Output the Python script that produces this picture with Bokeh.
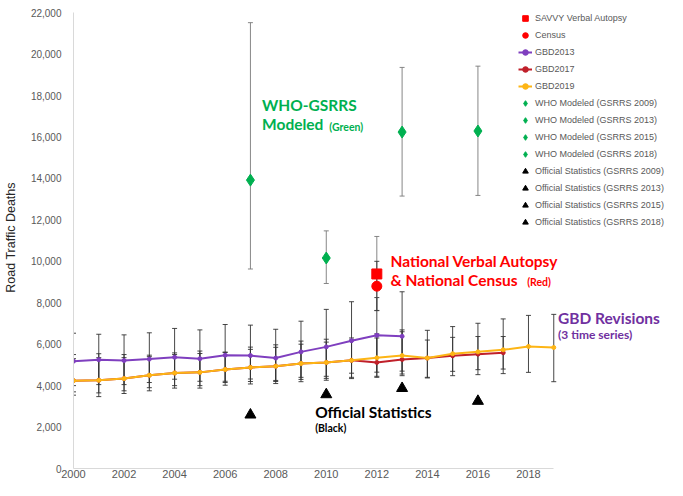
from bokeh.plotting import figure
from bokeh.models import (ColumnDataSource, Whisker, TeeHead, Legend, LegendItem, Label,
                          NumeralTickFormatter, FixedTicker, Range1d)
from bokeh.embed import file_html
from bokeh.resources import INLINE

# ---------------- data ----------------
x_ticks = [2000, 2002, 2004, 2006, 2008, 2010, 2012, 2014, 2016, 2018]
y_ticks = [0, 2000, 4000, 6000, 8000, 10000, 12000, 14000, 16000, 18000, 20000, 22000]

savvy_year = [2012]
savvy_val = [9390]
savvy_lo = [7630]
savvy_hi = [11200]

census_year = [2012]
census_val = [8800]
census_lo = [7620]
census_hi = [10000]

gbd2013_years = list(range(2000, 2014))
gbd2013 = [5180, 5250, 5210, 5280, 5370, 5300, 5470, 5450, 5330, 5630, 5870, 6170, 6430, 6380]
gbd2013_hi = [6530, 6480, 6450, 6550, 6760, 6690, 6950, 6920, 6720, 7110, 7680, 8050, 8250, 8530]
gbd2013_lo = [4000, 4050, 4050, 4150, 4310, 4210, 4210, 4320, 4250, 4400, 4450, 4600, 4650, 4700]

gbd2017_years = list(range(2000, 2018))
gbd2017 = [4240, 4260, 4340, 4500, 4610, 4640, 4780, 4880, 4940, 5070, 5120, 5220, 5120, 5260, 5330, 5440, 5520, 5590]
gbd2017_hi = [5300, 5350, 5350, 5400, 5500, 5550, 5600, 5750, 5850, 6000, 6100, 6200, 6300, 6690, 6200, 6330, 6370, 6370]
gbd2017_lo = [3700, 3650, 3750, 3900, 4000, 4000, 4150, 4200, 4200, 4300, 4350, 4400, 4400, 4480, 4400, 4690, 4770, 4800]

gbd2019_years = list(range(2000, 2020))
gbd2019 = [4240, 4260, 4340, 4500, 4610, 4640, 4780, 4880, 4940, 5070, 5120, 5220, 5340, 5450, 5330, 5540, 5630, 5730, 5890, 5840]
gbd2019_hi = [5500, 5540, 5500, 5470, 5580, 5670, 5620, 5860, 5970, 6150, 6240, 6300, 6500, 6600, 6670, 6850, 7010, 7220, 7390, 7440]
gbd2019_lo = [3540, 3470, 3620, 3750, 3880, 3880, 4020, 4080, 4100, 4190, 4260, 4340, 4450, 4560, 4370, 4480, 4530, 4580, 4640, 4190]

who_labels = ["WHO Modeled (GSRRS 2009)", "WHO Modeled (GSRRS 2013)",
              "WHO Modeled (GSRRS 2015)", "WHO Modeled (GSRRS 2018)"]
who_years = [2007, 2010, 2013, 2016]
who_val = [13920, 10160, 16240, 16290]
who_lo = [9630, 8930, 13150, 13180]
who_hi = [21520, 11470, 19360, 19420]

off_labels = ["Official Statistics (GSRRS 2009)", "Official Statistics (GSRRS 2013)",
              "Official Statistics (GSRRS 2015)", "Official Statistics (GSRRS 2018)"]
off_years = [2007, 2010, 2013, 2016]
off_val = [2590, 3570, 3870, 3250]

# ---------------- figure ----------------
# frame spans to the right edge so the legend / notes are not clipped;
# the axes themselves are bounded to 2000-2019 and 0-22000
p = figure(width=667, height=480, output_backend="svg", toolbar_location=None,
           x_range=Range1d(2000, 2023.5), y_range=Range1d(0, 22300),
           min_border_left=0, min_border_right=0, min_border_top=6, min_border_bottom=0)
p.xgrid.visible = False
p.ygrid.visible = False
p.outline_line_color = None
p.background_fill_color = "white"

for ax in (p.xaxis[0], p.yaxis[0]):
    ax.axis_line_color = "#d9d9d9"
    ax.major_tick_line_color = None
    ax.minor_tick_line_color = None
    ax.major_tick_out = 0
    ax.major_tick_in = 0
    ax.minor_tick_out = 0
    ax.minor_tick_in = 0
    ax.major_label_text_color = "#595959"
    ax.major_label_text_font = "Liberation Sans"

p.xaxis.bounds = (2000, 2019)
p.yaxis.bounds = (0, 22000)
p.xaxis.ticker = FixedTicker(ticks=x_ticks)
p.xaxis.major_label_text_font_size = "11px"
p.xaxis.major_label_standoff = 1
p.yaxis.ticker = FixedTicker(ticks=y_ticks)
p.yaxis.formatter = NumeralTickFormatter(format="0,0")
p.yaxis.major_label_text_font_size = "10px"
p.yaxis.major_label_standoff = 12
p.yaxis.axis_label = "Road Traffic Deaths"
p.yaxis.axis_label_text_font = "Liberation Sans"
p.yaxis.axis_label_text_font_style = "normal"
p.yaxis.axis_label_text_font_size = "12.5px"
p.yaxis.axis_label_text_color = "#262626"
p.yaxis.axis_label_standoff = 10

GBD_BAR = "#333333"
PURPLE = "#7f3fbf"
DKRED = "#c0202a"
ORANGE = "#fdb515"
GREEN = "#00b050"
RED = "#ff0000"


def whisker(xs, lo, hi, color, alpha=0.9):
    src = ColumnDataSource(dict(x=xs, lo=lo, hi=hi))
    w = Whisker(source=src, base="x", lower="lo", upper="hi", dimension="height",
                line_color=color, line_width=1, line_alpha=alpha, level="underlay",
                upper_head=TeeHead(size=5, line_color=color, line_width=1, line_alpha=alpha),
                lower_head=TeeHead(size=5, line_color=color, line_width=1, line_alpha=alpha))
    p.add_layout(w)


# error bars
whisker(gbd2013_years, gbd2013_lo, gbd2013_hi, GBD_BAR)
whisker(gbd2017_years, gbd2017_lo, gbd2017_hi, GBD_BAR)
whisker(gbd2019_years, gbd2019_lo, gbd2019_hi, GBD_BAR)
whisker(who_years, who_lo, who_hi, "#7a7a7a")
whisker(savvy_year, savvy_lo, savvy_hi, "#7a7a7a")
whisker(census_year, census_lo, census_hi, "#333333")

items = []

r_sv = p.scatter(savvy_year, savvy_val, marker="square", size=10, color=RED)
r_ce = p.scatter(census_year, census_val, marker="circle", size=10, color=RED)
items.append(LegendItem(label="SAVVY Verbal Autopsy", renderers=[r_sv]))
items.append(LegendItem(label="Census", renderers=[r_ce]))

r17l = p.line(gbd2017_years, gbd2017, line_color=DKRED, line_width=2)
r17s = p.scatter(gbd2017_years, gbd2017, size=4, color=DKRED)
r19l = p.line(gbd2019_years, gbd2019, line_color=ORANGE, line_width=2)
r19s = p.scatter(gbd2019_years, gbd2019, size=4, color=ORANGE)
r13l = p.line(gbd2013_years, gbd2013, line_color=PURPLE, line_width=2)
r13s = p.scatter(gbd2013_years, gbd2013, size=4, color=PURPLE)
items.append(LegendItem(label="GBD2013", renderers=[r13l, r13s]))
items.append(LegendItem(label="GBD2017", renderers=[r17l, r17s]))
items.append(LegendItem(label="GBD2019", renderers=[r19l, r19s]))

for lab, yr, v in zip(who_labels, who_years, who_val):
    r = p.scatter([yr], [v], marker="diamond", size=12, color=GREEN)
    items.append(LegendItem(label=lab, renderers=[r]))

for lab, yr, v in zip(off_labels, off_years, off_val):
    r = p.scatter([yr], [v], marker="triangle", size=11, color="black")
    items.append(LegendItem(label=lab, renderers=[r]))

legend = Legend(items=items, location=(445, 239), background_fill_alpha=0,
                border_line_color=None, padding=0, margin=0, spacing=3,
                glyph_width=14, glyph_height=14, label_height=14, label_standoff=3,
                label_text_font_size="9px", label_text_color="#595959",
                label_text_font="Liberation Sans")
p.add_layout(legend)


def note(x, y, text, color, size):
    p.add_layout(Label(x=x, y=y, text=text, text_color=color, text_font="Lato",
                       text_font_style="bold", text_font_size=size,
                       text_align="left", text_baseline="middle"))


note(2007.46, 17550, "WHO-GSRRS", GREEN, "15.5px")
note(2007.46, 16610, "Modeled", GREEN, "15.5px")
note(2010.12, 16500, "(Green)", GREEN, "10.5px")
note(2012.54, 10000, "National Verbal Autopsy", RED, "15.5px")
note(2012.54, 9120, "& National Census", RED, "15.5px")
note(2017.95, 9020, "(Red)", RED, "10.5px")
note(2019.17, 7280, "GBD Revisions", "#7030a0", "15.5px")
note(2019.17, 6450, "(3 time series)", "#7030a0", "12px")
note(2009.56, 2750, "Official Statistics", "black", "15.5px")
note(2009.56, 1970, "(Black)", "black", "10.5px")

open("out.html", "w").write(file_html(p, INLINE))
